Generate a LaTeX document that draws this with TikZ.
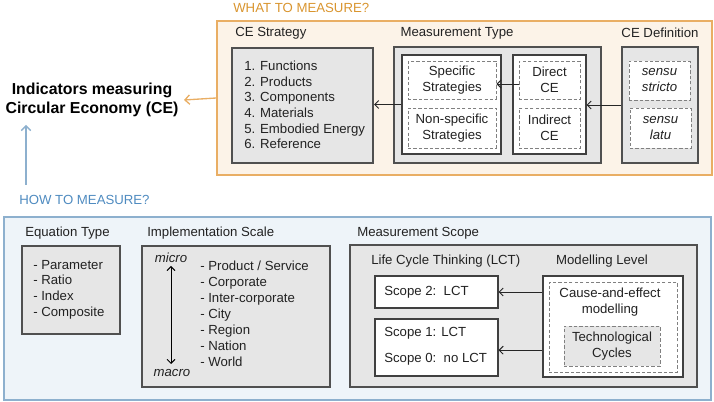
\documentclass[tikz,border=0pt]{standalone}
\usepackage{fontspec}
\setmainfont{Liberation Sans}
\usetikzlibrary{fit,arrows.meta}
\definecolor{orangeB}{HTML}{E9AE64}
\definecolor{orangeF}{HTML}{FCF3E8}
\definecolor{orangeT}{HTML}{D9952F}
\definecolor{blueB}{HTML}{8DB0CE}
\definecolor{blueF}{HTML}{EEF4F9}
\definecolor{blueT}{HTML}{4F8BC0}
\definecolor{grayF}{HTML}{E6E6E6}
\definecolor{darkB}{HTML}{505050}
\definecolor{txt}{HTML}{222222}
\begin{document}
\begin{tikzpicture}[x=0.75pt,y=-0.75pt,
  font=\fontsize{9.9}{11.7}\selectfont, text=txt,
  obox/.style={draw=orangeB, fill=orangeF, line width=1.1pt, inner sep=0},
  bbox/.style={draw=blueB, fill=blueF, line width=1pt, inner sep=0},
  gbox/.style={draw=darkB, fill=grayF, line width=1.6pt, inner sep=0},
  wbox/.style={draw=black!75, fill=white, line width=0.8pt, inner sep=0},
  dbox/.style={draw=black!50, dash pattern=on 2.5pt off 1.6pt, line width=0.7pt, inner sep=0},
  lbl/.style={anchor=west, inner sep=0},
  clbl/.style={inner sep=0},
  ctxt/.style={inner sep=0, align=center, font=\fontsize{9.9}{12}\selectfont},
  lst/.style={anchor=west, inner sep=0, align=left},
  arr/.style={-{Straight Barb[length=3pt,width=6pt]}, line width=0.7pt, draw=black!85}]
\useasboundingbox (0,0) rectangle (714,402);
% ---------- WHAT ----------
\node[obox, fit={(217,21)(712,175)}] (what) {};
\node[lbl, text=orangeT] (whatlbl) at (233,8) {WHAT TO MEASURE?};
\node[lbl] (stratlbl) at (235,33) {CE Strategy};
\node[gbox, fit={(232,48)(373,163)}] (strat) {};
\node[lst, font=\fontsize{9.9}{11.7}\selectfont] (stratlist) at (244,105) {1. Functions\\2. Products\\3. Components\\4. Materials\\5. Embodied Energy\\6. Reference};
\node[clbl] (mtlbl) at (457,33) {Measurement Type};
\node[gbox, fit={(394,47)(601,163)}] (mtype) {};
\node[wbox, fit={(402,55)(501,154)}] (mleft) {};
\node[dbox, fill=white, fit={(408,61)(496,99)}] (spec) {};
\node[ctxt] (spectxt) at (spec.center) {Specific\\Strategies};
\node[dbox, fill=white, fit={(408,108)(496,148)}] (nonspec) {};
\node[ctxt] (nonspectxt) at (nonspec.center) {Non-specific\\Strategies};
\node[wbox, fit={(513,55)(586,154)}] (mright) {};
\node[dbox, fill=white, fit={(519,61)(580,99)}] (direct) {};
\node[ctxt] (directtxt) at (direct.center) {Direct\\CE};
\node[dbox, fill=white, fit={(519,108)(580,148)}] (indirect) {};
\node[ctxt] (indirecttxt) at (indirect.center) {Indirect\\CE};
\node[clbl] (deflbl) at (660,33) {CE Definition};
\node[gbox, fit={(622,47)(698,163)}] (def) {};
\node[dbox, fill=white, fit={(629,61)(690,100)}] (stricto) {};
\node[ctxt, font=\fontsize{9.9}{12}\selectfont\itshape] (strictotxt) at (stricto.center) {sensu\\stricto};
\node[dbox, fill=white, fit={(630,108)(691,148)}] (latu) {};
\node[ctxt, font=\fontsize{9.9}{12}\selectfont\itshape] (latutxt) at (latu.center) {sensu\\latu};
\draw[arr] ([yshift=-3]direct.west) -- ([yshift=-3]direct.west -| spec.east);
\draw[arr] (mleft.west) -- (mleft.west -| strat.east);
\draw[arr] (def.west) -- (def.west -| mright.east);
% ---------- title ----------
\node[inner sep=0, align=center, font=\fontsize{11.9}{14.3}\selectfont\bfseries, text=black] (title) at (92,100) {Indicators measuring\\Circular Economy (CE)};
\draw[-{Straight Barb[length=3.5pt,width=7pt]}, draw=orangeB, line width=1pt] (what.west) -- ([xshift=4]title.east);
\coordinate (hs) at (26,185);
\coordinate (ht) at (26,125);
\draw[-{Straight Barb[length=3.5pt,width=7pt]}, draw=blueB, line width=1pt] (hs) -- (ht);
% ---------- HOW ----------
\node[lbl, text=blueT] (howlbl) at (19,200) {HOW TO MEASURE?};
\node[bbox, fit={(4,217)(711,400)}] (how) {};
\node[lbl] (eqlbl) at (25,233) {Equation Type};
\node[gbox, fit={(22,246)(120,334)}] (eq) {};
\node[lst, font=\fontsize{9.9}{11.8}\selectfont] (eqlist) at (33,289.5) {- Parameter\\- Ratio\\- Index\\- Composite};
\node[lbl] (impllbl) at (147,233) {Implementation Scale};
\node[gbox, fit={(142,246)(330,387)}] (impl) {};
\node[clbl, font=\fontsize{9.9}{11.7}\selectfont\itshape] (micro) at (171,258) {micro};
\node[clbl, font=\fontsize{9.9}{11.7}\selectfont\itshape] (macro) at (172,373) {macro};
\coordinate (mtop) at (171,266);
\coordinate (mbot) at (171,364);
\draw[{Straight Barb[length=3pt,width=6pt]}-{Straight Barb[length=3pt,width=6pt]}, line width=0.7pt] (mtop) -- (mbot);
\node[lst, font=\fontsize{9.9}{11.95}\selectfont] (impllist) at (200,314) {- Product / Service\\- Corporate\\- Inter-corporate\\- City\\- Region\\- Nation\\- World};
\node[lbl] (scopelbl) at (357,233) {Measurement Scope};
\node[gbox, fit={(350,245)(697,387)}] (scope) {};
\node[lbl] (lctlbl) at (371,261) {Life Cycle Thinking (LCT)};
\node[clbl] (modlbl) at (602,261) {Modelling Level};
\node[wbox, fit={(375,276)(498,308)}] (scope2) {};
\node[lbl] (s2txt) at (384,292) {Scope 2:\ \ LCT};
\node[wbox, fit={(375,319)(498,376)}] (scope10) {};
\node[lbl] (s1txt) at (384,333) {Scope 1: LCT};
\node[lbl] (s0txt) at (384,359) {Scope 0:\ \ no LCT};
\node[wbox, fit={(543,276)(683,377)}] (model) {};
\node[dbox, fit={(549,282)(677,372)}] (cause) {};
\node[ctxt] (causetxt) at (610,302.5) {Cause-and-effect\\modelling};
\node[dbox, fill=grayF, fit={(564,326)(660,366)}] (tech) {};
\node[ctxt] (techtxt) at (tech.center) {Technological\\Cycles};
\draw[arr] (scope2.east -| model.west) -- (scope2.east);
\draw[arr] ([yshift=-2]scope10.east -| model.west) -- ([yshift=-2]scope10.east);
\end{tikzpicture}
\end{document}
